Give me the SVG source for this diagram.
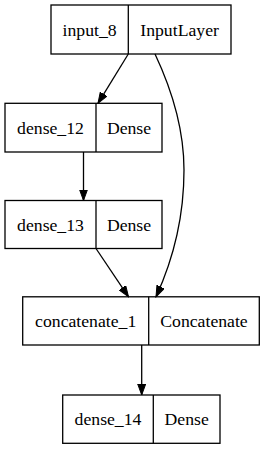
<svg xmlns="http://www.w3.org/2000/svg" width="265" height="449" viewBox="0 0 265 449">
<style>
.box{fill:none;stroke:#000;stroke-width:1.3}
.t{font-family:'Liberation Serif','Times New Roman',Times,serif;font-size:17.7px;fill:#000;text-anchor:middle}
.e{fill:none;stroke:#000;stroke-width:1.3}
</style>
<defs>
<marker id="ah" markerUnits="userSpaceOnUse" markerWidth="12" markerHeight="9" refX="11" refY="4.5" orient="auto" viewBox="0 0 12 9">
<path d="M0,0.5 L11,4.5 L0,8.5 z" fill="#000" stroke="#000" stroke-width="1"/>
</marker>
</defs>
<rect width="265" height="449" fill="#fff"/>
<g id="input_8">
<rect class="box" x="51" y="5" width="180" height="49"/>
<line class="box" x1="128.3" y1="5" x2="128.3" y2="54"/>
<text class="t" font-family="Liberation Serif" x="89.6" y="35.5">input_8</text>
<text class="t" font-family="Liberation Serif" x="179.6" y="35.5">InputLayer</text>
</g>
<g id="dense_12">
<rect class="box" x="5" y="103.3" width="157" height="48.7"/>
<line class="box" x1="96" y1="103.3" x2="96" y2="152"/>
<text class="t" font-family="Liberation Serif" x="50.5" y="133.5">dense_12</text>
<text class="t" font-family="Liberation Serif" x="129" y="133.5">Dense</text>
</g>
<g id="dense_13">
<rect class="box" x="5" y="200.5" width="157" height="48"/>
<line class="box" x1="96" y1="200.5" x2="96" y2="248.5"/>
<text class="t" font-family="Liberation Serif" x="50.5" y="230.5">dense_13</text>
<text class="t" font-family="Liberation Serif" x="129" y="230.5">Dense</text>
</g>
<g id="concatenate_1">
<rect class="box" x="22.7" y="296.8" width="236.6" height="48.2"/>
<line class="box" x1="148.7" y1="296.8" x2="148.7" y2="345"/>
<text class="t" font-family="Liberation Serif" x="85.7" y="327">concatenate_1</text>
<text class="t" font-family="Liberation Serif" x="204" y="327">Concatenate</text>
</g>
<g id="dense_14">
<rect class="box" x="62.7" y="395" width="157.3" height="48.3"/>
<line class="box" x1="153.3" y1="395" x2="153.3" y2="443.3"/>
<text class="t" font-family="Liberation Serif" x="108" y="425">dense_14</text>
<text class="t" font-family="Liberation Serif" x="186.7" y="425">Dense</text>
</g>
<g id="connectors">
<path class="e" d="M128.3,54 L98,103.3" marker-end="url(#ah)"/>
<path class="e" d="M155,54 C172,90 184,130 184,170 C184,220 172,262 156,296.8" marker-end="url(#ah)"/>
<path class="e" d="M83.5,152 L83.5,200.5" marker-end="url(#ah)"/>
<path class="e" d="M96,248.5 L128.5,296.8" marker-end="url(#ah)"/>
<path class="e" d="M141.7,345 L141.7,395" marker-end="url(#ah)"/>
</g>
</svg>
